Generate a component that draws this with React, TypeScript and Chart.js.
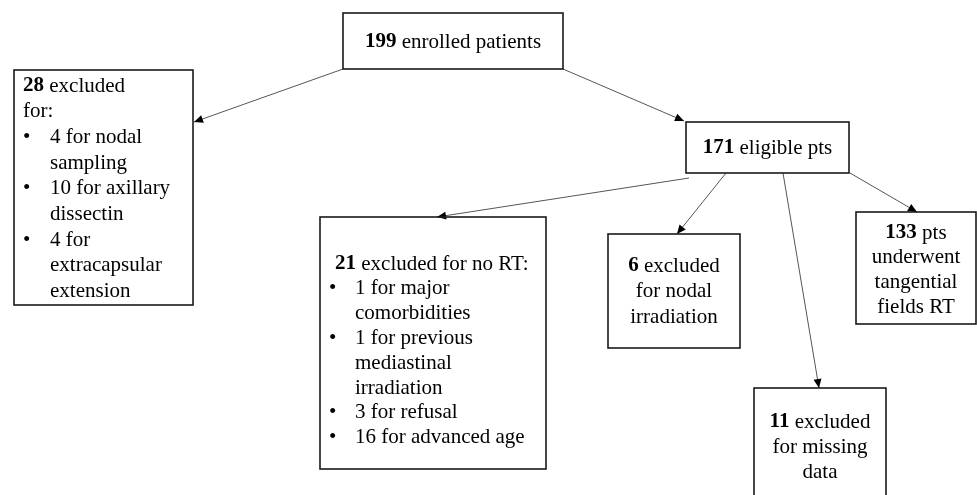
import React, { useEffect, useRef } from "react";
import { Chart, registerables } from "chart.js";

Chart.register(...registerables);

// ---- Data (counts and labels of the flow diagram) ----
const enrolled = 199;
const excludedInitial = 28;
const eligible = 171;
const excludedNoRT = 21;
const excludedNodal = 6;
const treated = 133;
const excludedMissing = 11;

const initialReasonCounts = [4, 10, 4];
const initialReasonLabels = ["for nodal|sampling", "for axillary|dissectin", "for|extracapsular|extension"];
const noRTReasonCounts = [1, 1, 3, 16];
const noRTReasonLabels = ["for major|comorbidities", "for previous|mediastinal|irradiation", "for refusal", "for advanced age"];

// ---- Layout (in chart units; x 0..977, y 0..495 top-down) ----
const boxRects = [
  [343, 13, 563, 69],
  [14, 70, 193, 305],
  [686, 122, 849, 173],
  [320, 217, 546, 469],
  [608, 234, 740, 348],
  [856, 212, 976, 324],
  [754, 388, 886, 500],
];
// align, anchor x, first line y, line height, bullet x, indent x
const textLayouts = [
  { align: "center", x: 453, y: 42, lh: 25 },
  { align: "left", x: 23, y: 86, lh: 25.7, bx: 23, ix: 50 },
  { align: "center", x: 767.5, y: 148, lh: 25 },
  { align: "left", x: 335, y: 264, lh: 24.8, bx: 329, ix: 355 },
  { align: "center", x: 674, y: 266, lh: 25.5 },
  { align: "center", x: 916, y: 233, lh: 24.8 },
  { align: "center", x: 820, y: 422, lh: 25 },
];
const arrowSegments = [
  [343, 69, 194, 122],
  [563, 69, 684, 121],
  [689, 178, 437, 217],
  [726, 173, 677, 234],
  [783, 173, 819, 388],
  [850, 173, 917, 212],
];

type Seg = { t: string; b?: boolean };
type Line = { segs: Seg[]; bullet?: boolean; indent?: boolean };

function reasonLines(counts: number[], labels: string[]): Line[] {
  const out: Line[] = [];
  counts.forEach((c, i) => {
    labels[i].split("|").forEach((p, j) => {
      out.push({ bullet: j === 0, indent: true, segs: [{ t: j === 0 ? `${c} ${p}` : p }] });
    });
  });
  return out;
}

const boxLines: Line[][] = [
  [{ segs: [{ t: String(enrolled), b: true }, { t: " enrolled patients" }] }],
  [
    { segs: [{ t: String(excludedInitial), b: true }, { t: " excluded" }] },
    { segs: [{ t: "for:" }] },
    ...reasonLines(initialReasonCounts, initialReasonLabels),
  ],
  [{ segs: [{ t: String(eligible), b: true }, { t: " eligible pts" }] }],
  [
    { segs: [{ t: String(excludedNoRT), b: true }, { t: " excluded for no RT:" }] },
    ...reasonLines(noRTReasonCounts, noRTReasonLabels),
  ],
  [
    { segs: [{ t: String(excludedNodal), b: true }, { t: " excluded" }] },
    { segs: [{ t: "for nodal" }] },
    { segs: [{ t: "irradiation" }] },
  ],
  [
    { segs: [{ t: String(treated), b: true }, { t: " pts" }] },
    { segs: [{ t: "underwent" }] },
    { segs: [{ t: "tangential" }] },
    { segs: [{ t: "fields RT" }] },
  ],
  [
    { segs: [{ t: String(excludedMissing), b: true }, { t: " excluded" }] },
    { segs: [{ t: "for missing" }] },
    { segs: [{ t: "data" }] },
  ],
];

const FONT_SIZE = 21;
const FAMILY = "'Liberation Serif', 'Times New Roman', serif";

const flowPlugin = {
  id: "flow",
  afterDraw(chart: any) {
    const ctx: CanvasRenderingContext2D = chart.ctx;
    const xs = chart.scales.x;
    const ys = chart.scales.y;
    const px = (v: number) => xs.getPixelForValue(v);
    const py = (v: number) => ys.getPixelForValue(v);
    ctx.save();

    // arrows
    arrowSegments.forEach(([x0, y0, x1, y1]) => {
      const ax = px(x0), ay = py(y0), bx = px(x1), by = py(y1);
      ctx.strokeStyle = "#555";
      ctx.lineWidth = 1;
      ctx.beginPath();
      ctx.moveTo(ax, ay);
      ctx.lineTo(bx, by);
      ctx.stroke();
      const ang = Math.atan2(by - ay, bx - ax);
      const L = 9, W = 4;
      ctx.fillStyle = "#000";
      ctx.beginPath();
      ctx.moveTo(bx, by);
      ctx.lineTo(bx - L * Math.cos(ang) + W * Math.sin(ang), by - L * Math.sin(ang) - W * Math.cos(ang));
      ctx.lineTo(bx - L * Math.cos(ang) - W * Math.sin(ang), by - L * Math.sin(ang) + W * Math.cos(ang));
      ctx.closePath();
      ctx.fill();
    });

    // boxes
    boxRects.forEach(([x0, y0, x1, y1]) => {
      ctx.strokeStyle = "#1a1a1a";
      ctx.lineWidth = 1.6;
      ctx.strokeRect(px(x0), py(y0), px(x1) - px(x0), py(y1) - py(y0));
    });

    // text
    ctx.fillStyle = "#000";
    ctx.textBaseline = "middle";
    ctx.textAlign = "left";
    const fontFor = (b?: boolean) => `${b ? "bold " : ""}${FONT_SIZE}px ${FAMILY}`;
    boxLines.forEach((lines, bi) => {
      const lay: any = textLayouts[bi];
      lines.forEach((line, li) => {
        const y = py(lay.y + li * lay.lh);
        const widths = line.segs.map((s) => {
          ctx.font = fontFor(s.b);
          return ctx.measureText(s.t).width;
        });
        const total = widths.reduce((a, b) => a + b, 0);
        let x: number;
        if (lay.align === "center") x = px(lay.x) - total / 2;
        else x = px(line.indent ? lay.ix : lay.x);
        if (line.bullet) {
          ctx.font = fontFor(false);
          ctx.fillText("\u2022", px(lay.bx), y);
        }
        line.segs.forEach((s, si) => {
          ctx.font = fontFor(s.b);
          ctx.fillText(s.t, x, y);
          x += widths[si];
        });
      });
    });
    ctx.restore();
  },
};

export default function App() {
  const ref = useRef<HTMLCanvasElement | null>(null);
  useEffect(() => {
    document.body.style.margin = "0";
    document.body.style.background = "#fff";
    const anchors = boxRects.map(([x0, y0, x1, y1]) => ({ x: (x0 + x1) / 2, y: (y0 + y1) / 2 }));
    const chart = new Chart(ref.current as HTMLCanvasElement, {
      type: "scatter",
      data: {
        datasets: [{ data: anchors, pointRadius: 0, pointHoverRadius: 0, showLine: false }],
      },
      options: {
        animation: false,
        responsive: false,
        devicePixelRatio: 1,
        layout: { padding: 0 },
        plugins: { legend: { display: false }, tooltip: { enabled: false } },
        events: [],
        scales: {
          x: { type: "linear", min: 0, max: 977, display: false },
          y: { type: "linear", min: 0, max: 495, reverse: true, display: false },
        },
      },
      plugins: [flowPlugin],
    });
    return () => chart.destroy();
  }, []);
  return (
    <div style={{ width: 977, height: 495, background: "#fff" }}>
      <canvas ref={ref} width={977} height={495} style={{ display: "block" }} />
    </div>
  );
}
